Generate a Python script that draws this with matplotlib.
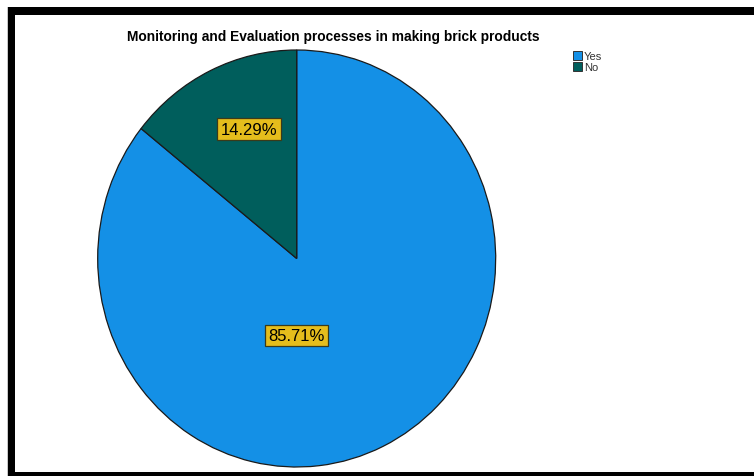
import matplotlib
matplotlib.use("Agg")
import matplotlib.pyplot as plt
from matplotlib.patches import Rectangle

# Data
categories = ["Yes", "No"]
percentages = [85.71, 14.29]
colors = ["#1490E6", "#005E5C"]
title = "Monitoring and Evaluation processes in making brick products"

W, H = 754, 477
fig = plt.figure(figsize=(W / 100, H / 100), dpi=100)
fig.patch.set_facecolor("white")


def px(x0, y0, w, h):
    """Convert a pixel box (top-left origin) to figure fraction."""
    return (x0 / W, 1 - (y0 + h) / H, w / W, h / H)


# Outer frame (thick black strip along top, left and bottom)
for (x0, y0, w, h) in [(8, 8, 746, 8), (8, 8, 7, 465), (8, 473, 746, 4)]:
    l, b, ww, hh = px(x0, y0, w, h)
    fig.add_artist(Rectangle((l, b), ww, hh, transform=fig.transFigure,
                             facecolor="black", edgecolor="none", zorder=5))
l, b, ww, hh = px(6.5, 8, 1.2, 469)
fig.add_artist(Rectangle((l, b), ww, hh, transform=fig.transFigure,
                         facecolor="#c8c8c8", edgecolor="none", zorder=4))

# Pie axes: slightly taller than wide, as in the original output
cx, cy, rx, ry = 296.7, 259.5, 199.0, 208.5
ax = fig.add_axes([(cx - rx) / W, 1 - (cy + ry) / H, 2 * rx / W, 2 * ry / H])
wedges, _ = ax.pie(percentages, colors=colors, startangle=90, counterclock=False,
                   radius=1.0,
                   wedgeprops=dict(edgecolor="#1a1a1a", linewidth=0.9))
ax.set_aspect("auto")
ax.set_xlim(-1, 1)
ax.set_ylim(-1, 1)
ax.axis("off")

# Percentage labels in yellow boxes
label_pos = {"No": (-0.24, 0.62), "Yes": (0.0, -0.37)}
for cat, pct in zip(categories, percentages):
    x, y = label_pos[cat]
    ax.text(x, y, f"{pct:.2f}%", ha="center", va="center",
            fontsize=12, family="Liberation Sans", color="black",
            bbox=dict(boxstyle="square,pad=0.2", facecolor="#E5BD1C",
                      edgecolor="#3a3a1a", linewidth=0.9))

# Title
fig.text(333 / W, 1 - 37 / H, title, ha="center", va="center",
         fontsize=9.9, fontweight="bold", family="Liberation Sans")

# Legend
for i, (cat, col) in enumerate(zip(categories, colors)):
    top = 52 + i * 11
    l, b, ww, hh = px(573, top, 9, 9)
    fig.add_artist(Rectangle((l, b), ww, hh, transform=fig.transFigure,
                             facecolor=col, edgecolor="#333333", linewidth=0.7))
    fig.text(584 / W, 1 - (top + 5) / H, cat, ha="left", va="center",
             fontsize=8, color="#333333", family="Liberation Sans")

fig.savefig("out.png", dpi=100)
